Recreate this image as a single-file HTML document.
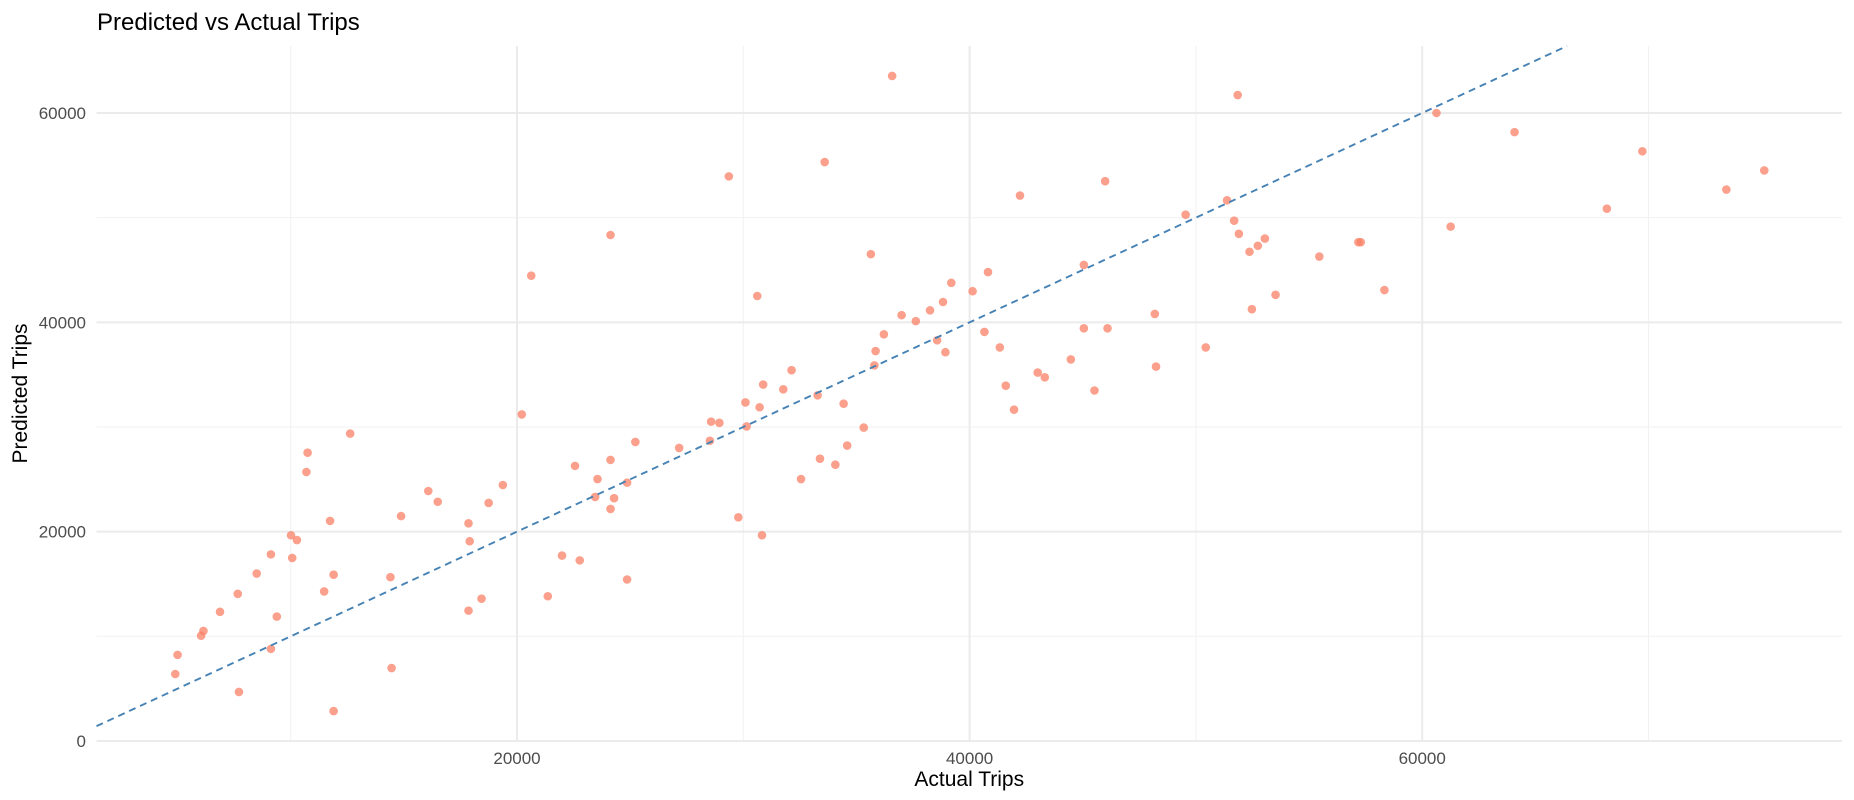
<!DOCTYPE html>
<html><head><meta charset="utf-8"><style>
html,body{margin:0;padding:0;background:#fff;}
svg{display:block;font-family:"Liberation Sans",sans-serif;}
</style></head><body>
<svg id="chart" width="1854" height="800"></svg>
<script>
const actualTrips=[4900,5000,6040,6144,6876,7660,7713,8497,9125,9125,9386,10014,10066,10275,10693,10746,11478,11739,11896,11896,12628,14406,14458,14877,16079,16497,17857,17857,17909,18432,18746,19374,20210,20628,21360,21988,22563,22772,23452,23557,24132,24132,24132,24289,24864,24864,25230,27165,28524,28577,28943,29361,29780,30093,30145,30616,30720,30825,30877,31766,32132,32551,33283,33387,33596,34067,34433,34590,35322,35636,35793,35845,36211,36577,36995,37623,38250,38564,38825,38930,39191,40133,40655,40812,41335,41597,41963,42226,43009,43322,44473,45048,45048,45518,45989,46094,48185,48238,49545,50434,51375,51689,51846,51898,52368,52473,52736,53048,53519,55454,57179,57284,58330,60630,61257,64081,68160,69729,73441,75115];
const predictedTrips=[6400,8229,10057,10515,12343,14058,4686,16000,17829,8800,11886,19658,17486,19200,25700,27543,14286,21029,15886,2857,29372,15657,6971,21486,23886,22857,20800,12457,19086,13600,22743,24457,31200,44457,13829,17714,26286,17257,23314,25029,48343,26857,22171,23200,15429,24686,28571,28000,28686,30514,30400,53943,21371,32343,30057,42514,31886,19657,34057,33600,35429,25029,33029,26971,55314,26400,32229,28229,29943,46514,35886,37257,38857,63543,40686,40114,41143,38286,41943,37143,43771,42971,39086,44800,37600,33943,31657,52114,35200,34743,36457,45486,39429,33486,53486,39429,40800,35771,50286,37600,51657,49714,61714,48457,46743,41257,47314,48000,42629,46286,47657,47657,43086,60000,49143,58171,50857,56343,52686,54514];
const xTicks=[20000,40000,60000];
const yTicks=[0,20000,40000,60000];
const xMinor=[10000,30000,50000,70000];
const yMinor=[10000,30000,50000];

const NS="http://www.w3.org/2000/svg";
const svg=document.getElementById('chart');
const L=96.5,R=1842,T=46,B=741;
const xMin=1418,xMax=78550,yMin=0,yMax=66400;
const sx=v=>L+(v-xMin)/(xMax-xMin)*(R-L);
const sy=v=>B-(v-yMin)/(yMax-yMin)*(B-T);
function mk(tag,attrs){const e=document.createElementNS(NS,tag);for(const k in attrs)e.setAttribute(k,attrs[k]);svg.appendChild(e);return e;}

xMinor.forEach(v=>{const e=mk('line',{x1:sx(v),x2:sx(v),y1:T,y2:B,stroke:'#f2f2f2','stroke-width':1.1});

});
yMinor.forEach(v=>{const e=mk('line',{x1:L,x2:R,y1:sy(v),y2:sy(v),stroke:'#f2f2f2','stroke-width':1.1});

});
xTicks.forEach(v=>{const e=mk('line',{x1:sx(v),x2:sx(v),y1:T,y2:B,stroke:'#ebebeb','stroke-width':2});


const t=mk('text',{x:sx(v),y:764,'text-anchor':'middle','font-size':17,fill:'#4d4d4d'});t.textContent=v;

});
yTicks.forEach(v=>{const e=mk('line',{x1:L,x2:R,y1:sy(v),y2:sy(v),stroke:'#ebebeb','stroke-width':2});


const t=mk('text',{x:86,y:sy(v)+6,'text-anchor':'end','font-size':17,fill:'#4d4d4d'});t.textContent=v;

});

actualTrips.forEach((a,i)=>{const c=mk('circle',{cx:sx(a),cy:sy(predictedTrips[i]),r:4.3,fill:'#fa8066','fill-opacity':0.75});

});

const yEnd=Math.min(xMax,yMax);
const ln=mk('line',{x1:sx(xMin),y1:sy(xMin),x2:sx(yEnd),y2:sy(yEnd),stroke:'#4682b4','stroke-width':1.9,'stroke-dasharray':'7,5'});



const title=mk('text',{x:97,y:30,'font-size':24,fill:'#000'});title.textContent='Predicted vs Actual Trips';


const xt=mk('text',{x:(L+R)/2,y:786,'text-anchor':'middle','font-size':21,fill:'#000'});xt.textContent='Actual Trips';


const yt=mk('text',{x:0,y:0,'text-anchor':'middle','font-size':21,fill:'#000',transform:'translate(27,'+((T+B)/2)+') rotate(-90)'});yt.textContent='Predicted Trips';


</script>
</body></html>
